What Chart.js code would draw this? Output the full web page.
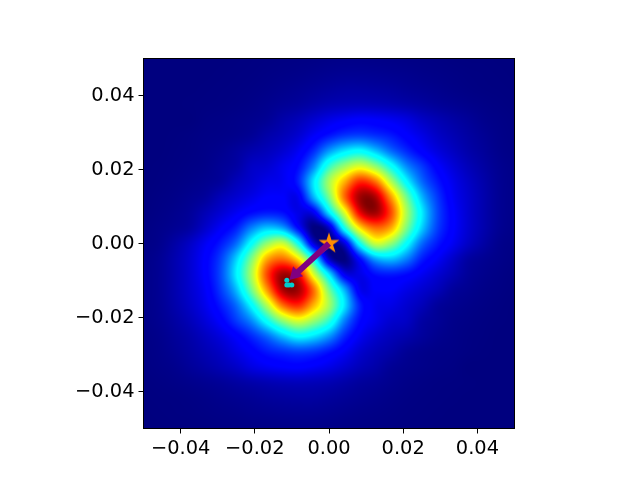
<!DOCTYPE html>
<html>
<head>
<meta charset="utf-8">
<script src="https://cdn.jsdelivr.net/npm/chart.js@4/dist/chart.umd.min.js"></script>
<style>
html, body { margin: 0; padding: 0; background: #fff; }
canvas { display: block; }
</style>
</head>
<body>
<canvas id="chartField" width="640" height="480"></canvas>
<script>
/*Values, jet colour scale 0..1, top row is y = +0.05*/
const gridStep = 0.1 / 24;
const tickValues = [-0.04, -0.02, 0, 0.02, 0.04];
const tickLabels = ["\u22120.04", "\u22120.02", "0.00", "0.02", "0.04"];
const fieldRows = [
    [0,0,0,0,0,0,.001,.002,.003,.004,.005,.006,.008,.009,.009,.008,.007,.006,.005,.004,.002,.001,.001,0,0],
    [0,0,0,0,0,.001,.002,.003,.005,.007,.009,.012,.015,.017,.017,.016,.014,.012,.009,.007,.005,.003,.002,.001,0],
    [0,0,0,0,.001,.002,.003,.005,.008,.012,.016,.021,.026,.03,.03,.028,.025,.02,.016,.012,.008,.005,.003,.002,.001],
    [0,0,0,.001,.002,.003,.005,.008,.013,.02,.026,.036,.045,.05,.052,.05,.045,.038,.03,.022,.016,.011,.007,.004,.002],
    [0,0,0,0,.004,.006,.009,.013,.02,.036,.05,.07,.09,.105,.115,.11,.10,.085,.062,.046,.033,.022,.012,.007,.004],
    [0,0,.001,.003,.006,.008,.012,.02,.036,.05,.07,.105,.14,.17,.18,.165,.145,.115,.088,.062,.045,.03,.018,.009,.005],
    [0,0,.002,.004,.008,.014,.025,.04,.052,.07,.10,.16,.26,.33,.36,.30,.22,.16,.115,.082,.058,.037,.023,.011,.006],
    [0,.001,.003,.006,.01,.02,.032,.06,.07,.095,.13,.24,.42,.53,.60,.52,.38,.25,.175,.115,.078,.05,.03,.015,.008],
    [0,.002,.005,.009,.015,.025,.05,.07,.09,.10,.15,.33,.54,.71,.85,.78,.56,.36,.22,.145,.095,.062,.037,.017,.009],
    [.001,.004,.008,.015,.025,.05,.07,.09,.11,.11,.10,.28,.49,.78,.97,.96,.74,.49,.29,.175,.105,.068,.04,.018,.009],
    [.002,.006,.012,.022,.046,.072,.10,.13,.145,.135,.09,.10,.33,.60,.90,.97,.82,.55,.34,.19,.115,.07,.04,.018,.009],
    [.004,.009,.017,.03,.065,.105,.15,.24,.30,.27,.13,0,.06,.38,.66,.78,.72,.50,.31,.18,.115,.07,.04,.017,.008],
    [.006,.012,.032,.06,.10,.145,.22,.37,.52,.58,.38,.08,0,.08,.38,.58,.52,.37,.22,.145,.10,.06,.032,.012,.006],
    [.008,.017,.04,.07,.115,.18,.31,.50,.72,.78,.66,.38,.06,0,.13,.27,.30,.24,.15,.105,.065,.03,.017,.009,.004],
    [.009,.018,.04,.07,.115,.19,.34,.55,.82,.97,.90,.60,.33,.10,.09,.135,.145,.13,.10,.072,.046,.022,.012,.006,.002],
    [.009,.018,.04,.068,.105,.175,.29,.49,.74,.96,.97,.78,.49,.28,.10,.11,.11,.09,.07,.05,.025,.015,.008,.004,.001],
    [.009,.017,.037,.062,.095,.145,.22,.36,.56,.78,.85,.71,.54,.33,.15,.10,.09,.07,.05,.025,.015,.009,.005,.002,0],
    [.008,.015,.03,.05,.078,.115,.175,.25,.38,.52,.60,.53,.42,.24,.13,.095,.07,.06,.032,.02,.01,.006,.003,.001,0],
    [.006,.011,.023,.037,.058,.082,.115,.16,.22,.30,.36,.33,.26,.16,.10,.07,.052,.04,.025,.014,.008,.004,.002,0,0],
    [.005,.009,.018,.03,.045,.062,.088,.115,.145,.165,.18,.17,.14,.105,.07,.05,.036,.02,.012,.008,.006,.003,.001,0,0],
    [.004,.007,.012,.022,.033,.046,.062,.085,.10,.11,.115,.105,.09,.07,.05,.036,.02,.013,.009,.006,.004,0,0,0,0],
    [.002,.004,.007,.011,.016,.022,.03,.038,.045,.05,.052,.05,.045,.036,.026,.02,.013,.008,.005,.003,.002,.001,0,0,0],
    [.001,.002,.003,.005,.008,.012,.016,.02,.025,.028,.03,.03,.026,.021,.016,.012,.008,.005,.003,.002,.001,0,0,0,0],
    [0,.001,.002,.003,.005,.007,.009,.012,.014,.016,.017,.017,.015,.012,.009,.007,.005,.003,.002,.001,0,0,0,0,0],
    [0,0,.001,.001,.002,.004,.005,.006,.007,.008,.009,.009,.008,.006,.005,.004,.003,.002,.001,0,0,0,0,0,0]
];
const starPoint = [{ x: 0, y: 0 }];
const arrowShaft = [{ x: 0, y: 0 }, { x: -0.0085, y: -0.0078 }];
const arrowHead = [{ x: -0.00911, y: -0.0083 }];
const cyanPoints = [{ x: -0.01137, y: -0.0099 }, { x: -0.01137, y: -0.01124 }, { x: -0.01002, y: -0.01124 }, { x: -0.0108, y: -0.0112 }];
const jetStops = [
    [0, 0, 0, 127], [0.11, 0, 0, 255], [0.125, 0, 0, 255], [0.35, 0, 255, 255], [0.375, 0, 255, 255],
    [0.5, 127, 255, 127], [0.64, 255, 255, 0], [0.66, 255, 230, 0], [0.89, 255, 0, 0], [0.91, 232, 0, 0], [1, 127, 0, 0]
];

function jetColor(v) {
    if (v <= 0) { return jetStops[0].slice(1); }
    for (var k = 1; k < jetStops.length; k++) {
        if (v <= jetStops[k][0]) {
            var a = jetStops[k - 1], b = jetStops[k];
            var t = (v - a[0]) / (b[0] - a[0]);
            return [a[1] + (b[1] - a[1]) * t, a[2] + (b[2] - a[2]) * t, a[3] + (b[3] - a[3]) * t];
        }
    }
    return jetStops[jetStops.length - 1].slice(1);
}
function cubic(p0, p1, p2, p3, t) {
    return p1 + 0.5 * t * (p2 - p0 + t * (2 * p0 - 5 * p1 + 4 * p2 - p3 + t * (3 * (p1 - p2) + p3 - p0)));
}
function sampleField(gx, gy) {
    var n = fieldRows.length - 1;
    var ix = Math.max(0, Math.min(Math.floor(gx), n - 1)), iy = Math.max(0, Math.min(Math.floor(gy), n - 1));
    var col = [];
    for (var r = -1; r <= 2; r++) {
        var row = fieldRows[Math.max(0, Math.min(n, iy + r))];
        col.push(cubic(row[Math.max(0, ix - 1)], row[ix], row[ix + 1], row[Math.min(n, ix + 2)], gx - ix));
    }
    return cubic(col[0], col[1], col[2], col[3], gy - iy);
}
function makeStar(radius, color) {
    var c = document.createElement("canvas");
    c.width = c.height = radius * 2 + 2;
    var g = c.getContext("2d");
    g.fillStyle = color;
    g.beginPath();
    for (var k = 0; k < 10; k++) {
        var r = k % 2 ? radius * 0.382 : radius;
        var a = -Math.PI / 2 + k * Math.PI / 5;
        g.lineTo(radius + 1 + r * Math.cos(a), radius + 1 + r * Math.sin(a));
    }
    g.closePath();
    g.fill();
    return c;
}
/*Paints the grid under the markers through the chart's own scales*/
const fieldPlugin = {
    id: "fieldPlugin",
    beforeDatasetsDraw(chart) {
        var area = chart.chartArea, sx = chart.scales.x, sy = chart.scales.y, ctx = chart.ctx;
        var x0 = Math.floor(area.left), y0 = Math.floor(area.top);
        var w = Math.ceil(area.right) - x0, h = Math.ceil(area.bottom) - y0;
        var img = ctx.createImageData(w, h);
        for (var py = 0; py < h; py++) {
            var gy = (0.05 - sy.getValueForPixel(y0 + py + 0.5)) / gridStep;
            for (var px = 0; px < w; px++) {
                var gx = (sx.getValueForPixel(x0 + px + 0.5) + 0.05) / gridStep;
                var c = jetColor(sampleField(gx, gy));
                var o = (py * w + px) * 4;
                img.data[o] = c[0]; img.data[o + 1] = c[1]; img.data[o + 2] = c[2]; img.data[o + 3] = 255;
            }
        }
        ctx.putImageData(img, x0, y0);
    },
    afterDatasetsDraw(chart) {
        var area = chart.chartArea, ctx = chart.ctx;
        ctx.save();
        ctx.strokeStyle = "#000";
        ctx.lineWidth = 1;
        ctx.strokeRect(area.left, area.top, area.right - area.left, area.bottom - area.top);
        ctx.restore();
    }
};
function axisOptions(size) {
    return {
        type: "linear",
        min: -0.05,
        max: 0.05,
        afterBuildTicks: function (scale) { scale.ticks = tickValues.map(function (v) { return { value: v }; }); },
        afterFit: function (scale) {
            if (size.width) { scale.width = size.width; } else { scale.height = size.height; }
        },
        grid: { drawOnChartArea: false, drawTicks: true, tickLength: 5, tickColor: "#000", tickWidth: 1 },
        border: { display: false },
        ticks: {
            autoSkip: false,
            maxRotation: 0,
            padding: 4,
            color: "#000",
            font: { family: "DejaVu Sans", size: 19.4 },
            callback: function (value, index) { return tickLabels[index]; }
        }
    };
}
var ctx = document.getElementById("chartField").getContext("2d");
var chartField = new Chart(ctx, {
    type: "scatter",
    data: {
        datasets: [
            { label: "Arrow head", data: arrowHead, pointStyle: "triangle", pointRadius: 8.2, pointRotation: 225, backgroundColor: "#800080", borderWidth: 0, order: 1 },
            { label: "Arrow", type: "line", data: arrowShaft, borderColor: "#800080", borderWidth: 6, pointRadius: 0, order: 2 },
            { label: "Origin", data: starPoint, pointStyle: makeStar(11, "#ff8c00"), pointRadius: 11, order: 3 },
            { label: "Samples", data: cyanPoints, pointStyle: "circle", pointRadius: 2.5, backgroundColor: "#00ced1", borderWidth: 0, order: 4 }
        ]
    },
    options: {
        responsive: false,
        animation: false,
        layout: { padding: { left: 0, top: 58.5, right: 125.5, bottom: 0 } },
        plugins: { legend: { display: false }, tooltip: { enabled: false } },
        scales: {
            x: axisOptions({ height: 51.5 }),
            y: axisOptions({ width: 143.5 })
        }
    },
    plugins: [fieldPlugin]
});
</script>
</body>
</html>
